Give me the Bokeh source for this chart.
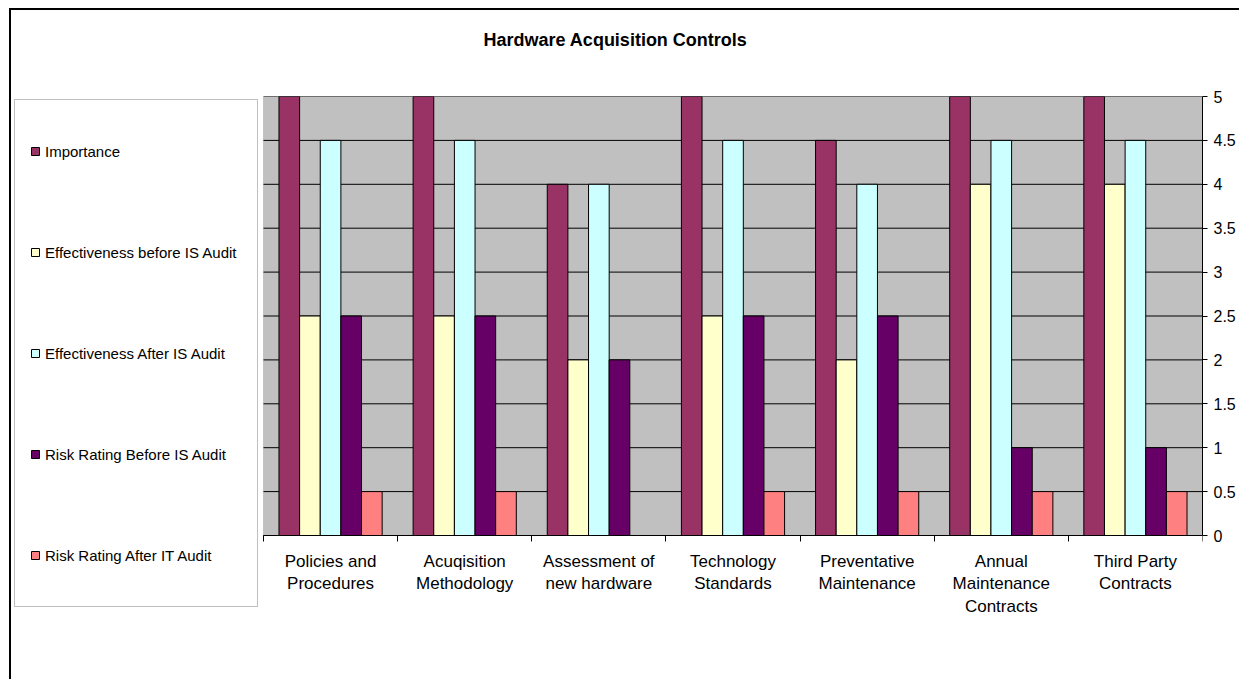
from bokeh.plotting import figure
from bokeh.models import (ColumnDataSource, FixedTicker, NumeralTickFormatter, Legend,
                          LegendItem, Title, Range1d, BoxAnnotation)
from bokeh.transform import dodge
from bokeh.embed import file_html
from bokeh.resources import INLINE

categories = ["Policies and Procedures", "Acuqisition Methodology", "Assessment of new hardware",
              "Technology Standards", "Preventative Maintenance", "Annual Maintenance Contracts",
              "Third Party Contracts"]
category_labels = ["Policies and\nProcedures", "Acuqisition\nMethodology", "Assessment of\nnew hardware",
                   "Technology\nStandards", "Preventative\nMaintenance", "Annual\nMaintenance\nContracts",
                   "Third Party\nContracts"]
series_names = ["Importance", "Effectiveness before IS Audit", "Effectiveness After IS Audit",
                "Risk Rating Before IS Audit", "Risk Rating After IT Audit"]
importance = [5, 5, 4, 5, 4.5, 5, 5]
eff_before = [2.5, 2.5, 2, 2.5, 2, 4, 4]
eff_after = [4.5, 4.5, 4, 4.5, 4, 4.5, 4.5]
risk_before = [2.5, 2.5, 2, 2.5, 2.5, 1, 1]
risk_after = [0.5, 0.5, 0, 0.5, 0.5, 0.5, 0.5]
colors = ["#993366", "#FFFFCC", "#CCFFFF", "#660066", "#FF8080"]
y_ticks = [0, 0.5, 1, 1.5, 2, 2.5, 3, 3.5, 4, 4.5, 5]

FONT = "Liberation Sans"
n = len(categories)
y_max = 5
centers = [i + 0.5 for i in range(n)]
boundaries = [i for i in range(n + 1)]
series = [importance, eff_before, eff_after, risk_before, risk_after]

source = ColumnDataSource(dict(x=centers, **{"s%d" % k: v for k, v in enumerate(series)}))

# layout in pixels (canvas of 1230 x 671, placed at 11,10 inside the outer border)
W, H = 1230, 671
frame_top, frame_bottom = 86, 650          # drawing frame (covers legend area too)
chart_left, chart_right = 252, 1191        # grey plot area
chart_bottom = 525
px_per_x = (chart_right - chart_left) / n
px_per_y = (chart_bottom - frame_top) / y_max

p = figure(width=W, height=H,
           x_range=Range1d(-chart_left / px_per_x, n),
           y_range=Range1d(-(frame_bottom - chart_bottom) / px_per_y, y_max),
           output_backend="svg", toolbar_location=None, y_axis_location="right",
           min_border_left=0, min_border_right=W - chart_right, min_border_top=frame_top,
           min_border_bottom=H - frame_bottom, margin=(8, 0, 0, 9),
           styles={"border-top": "2px solid black", "border-left": "2px solid black"})
p.background_fill_color = "white"
p.border_fill_color = "white"
p.outline_line_color = None

p.add_layout(BoxAnnotation(left=0, right=n, bottom=0, top=y_max, fill_color="#C0C0C0",
                           fill_alpha=1, line_color="#808080", line_width=1, level="image"))

# horizontal gridlines limited to the plot area
p.segment(x0=[0] * len(y_ticks), x1=[n] * len(y_ticks), y0=y_ticks, y1=y_ticks,
          line_color="black", line_width=1)

bw = 1 / 6.5
renderers = []
for k in range(5):
    r = p.vbar(x=dodge("x", (k - 2) * bw, range=p.x_range), top="s%d" % k, width=bw, bottom=0,
               source=source, fill_color=colors[k], line_color="black", line_width=1)
    renderers.append(r)

yt = FixedTicker(ticks=y_ticks)
ya = p.yaxis[0]
ya.ticker = yt
ya.bounds = (0, y_max)
ya.formatter = NumeralTickFormatter(format="0.[0]")
ya.major_tick_out = 5
ya.major_tick_in = 0
ya.minor_tick_out = 0
ya.minor_tick_in = 0
ya.axis_line_color = "black"
ya.major_tick_line_color = "black"
ya.major_label_text_font = FONT
ya.major_label_text_font_size = "16px"
ya.major_label_text_color = "black"
ya.major_label_standoff = 6
p.ygrid.visible = False
p.xgrid.visible = False

xt = FixedTicker(ticks=centers, minor_ticks=boundaries)
xa = p.xaxis[0]
xa.ticker = xt
xa.bounds = (0, n)
xa.fixed_location = 0
xa.major_label_overrides = {c: lab for c, lab in zip(centers, category_labels)}
xa.major_tick_out = 0
xa.major_tick_in = 0
xa.minor_tick_out = 6
xa.minor_tick_in = 0
xa.minor_tick_line_color = "black"
xa.axis_line_color = "black"
xa.major_label_text_font = FONT
xa.major_label_text_font_size = "17px"
xa.major_label_text_color = "black"
xa.major_label_text_line_height = 1.2
xa.major_label_standoff = 10

spacer = Title(text=" ", text_font=FONT, text_font_size="18px", standoff=20)
p.add_layout(spacer, "above")
title = Title(text="Hardware Acquisition Controls", align="left", offset=472,
              text_font=FONT, text_font_size="18px", text_font_style="bold",
              text_color="black", standoff=10)
p.add_layout(title, "above")

legend = Legend(items=[LegendItem(label=nm, renderers=[r]) for nm, r in zip(series_names, renderers)],
                label_text_font=FONT, label_text_font_size="15px", label_text_color="black",
                glyph_width=10, glyph_height=10, label_height=72, label_width=197,
                label_standoff=5, spacing=29, padding=15, margin=0,
                border_line_color="#808080", border_line_width=1,
                background_fill_color="white", background_fill_alpha=1,
                location=(3, frame_bottom - 597))
p.add_layout(legend, "center")

open("out.html", "w").write(file_html(p, INLINE))
